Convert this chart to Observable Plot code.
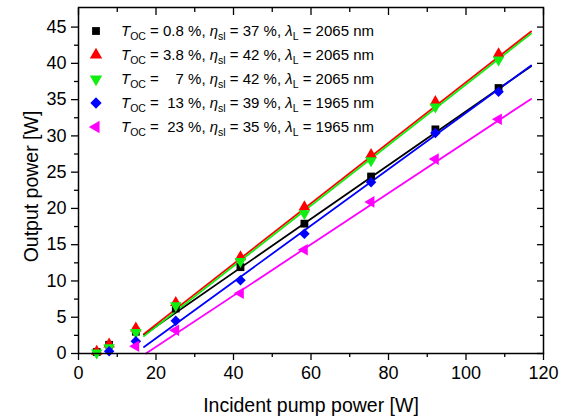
<!DOCTYPE html>
<html><head><meta charset="utf-8">
<script src="https://cdn.jsdelivr.net/npm/d3@7"></script>
<script src="https://cdn.jsdelivr.net/npm/@observablehq/plot@0.6"></script>
<style>body{margin:0;background:#fff}#chart{width:571px;height:419px}</style>
</head><body><div id="chart"></div>
<script>
// ---- data ----
const pump = [4.7, 7.9, 14.8, 25.1, 41.8, 58.3, 75.5, 92.1, 108.4];
const toc = ["0.8", "3.8", "7", "13", "23"];
const etaSl = ["37", "42", "42", "39", "35"];
const lambdaL = ["2065", "2065", "2065", "1965", "1965"];
const out08 = [0.2, 1.2, 3.0, 6.2, 11.9, 17.9, 24.4, 30.9, 36.6];
const out38 = [0.3, 1.3, 3.5, 7.0, 13.3, 20.2, 27.4, 34.7, 41.3];
const out7  = [0.1, 0.8, 2.9, 6.6, 12.7, 19.3, 26.6, 34.0, 40.5];
const out13 = [null, 0.3, 1.7, 4.5, 10.1, 16.5, 23.6, 30.4, 36.1];
const out23 = [null, null, 1.0, 3.2, 8.3, 14.3, 20.9, 26.8, 32.3];
// linear fit end points
const fitX0 = [16.9, 16.9, 16.9, 16.9, 17.4];
const fitX1 = [116.8, 116.8, 116.8, 116.8, 116.8];
const fitY0 = [2.6, 2.7, 2.4, 0.9, 0.0];
const fitY1 = [39.6, 44.4, 44.1, 39.7, 35.1];
const xTicks = [0, 20, 40, 60, 80, 100, 120];
const xMinor = [10, 30, 50, 70, 90, 110];
const yTicks = [0, 5, 10, 15, 20, 25, 30, 35, 40, 45];
const yMinor = [2.5, 7.5, 12.5, 17.5, 22.5, 27.5, 32.5, 37.5, 42.5];

// ---- styling ----
const outs = [out08, out38, out7, out13, out23];
const colors = ["#000000", "#ff0000", "#11ee11", "#0000ff", "#ff00ff"];
const symbols = ["square", "triangle", "triangle", "square", "triangle"];
const rotations = [0, 0, 180, 45, -90];
const radii = [4.4, 4.3, 4.3, 4.2, 4.3];
const FONT = "'Liberation Sans', Arial, sans-serif";

const marks = [];
outs.forEach((vals, i) => {
  const fit = [{x: fitX0[i], y: fitY0[i]}, {x: fitX1[i], y: fitY1[i]}];
  marks.push(Plot.line(fit, {x: "x", y: "y", stroke: colors[i], strokeWidth: 1.8}));
});
outs.forEach((vals, i) => {
  const pts = pump.map((p, j) => ({x: p, y: vals[j]})).filter(d => d.y != null);
  marks.push(Plot.dot(pts, {x: "x", y: "y", symbol: symbols[i], fill: colors[i], stroke: "none", r: radii[i], rotate: rotations[i]}));
});

const ax = {stroke: "#000", strokeWidth: 1.3};
const blank = () => "";
marks.push(
  Plot.axisX(xTicks, {anchor: "bottom", tickSize: 7, tickPadding: 6, fontSize: 18, ...ax, label: null}),
  Plot.axisX(xMinor, {anchor: "bottom", tickSize: 4, tickFormat: blank, ...ax, label: null}),
  Plot.axisX(xTicks, {anchor: "top", tickSize: 7, dy: 7, tickFormat: blank, ...ax, label: null}),
  Plot.axisX(xMinor, {anchor: "top", tickSize: 4, dy: 4, tickFormat: blank, ...ax, label: null}),
  Plot.axisY(yTicks, {anchor: "left", tickSize: 7, tickPadding: 5, fontSize: 18, ...ax, label: null}),
  Plot.axisY(yMinor, {anchor: "left", tickSize: 4, tickFormat: blank, ...ax, label: null}),
  Plot.axisY(yTicks, {anchor: "right", tickSize: 7, dx: -7, tickFormat: blank, ...ax, label: null}),
  Plot.axisY(yMinor, {anchor: "right", tickSize: 4, dx: -4, tickFormat: blank, ...ax, label: null}),
  Plot.frame({stroke: "#000", strokeWidth: 1.5}),
  Plot.text(["Incident pump power [W]"], {frameAnchor: "bottom", dy: 58, fontSize: 19.5, fill: "#000", textAnchor: "middle"}),
  Plot.text(["Output power [W]"], {frameAnchor: "left", dx: -47, dy: 6, rotate: -90, fontSize: 19.5, fill: "#000", textAnchor: "middle"})
);

const chart = Plot.plot({
  width: 571, height: 419,
  marginLeft: 78, marginRight: 28, marginTop: 7, marginBottom: 66,
  style: {fontFamily: FONT, color: "#000", background: "#fff", overflow: "visible"},
  x: {domain: [0, 120]},
  y: {domain: [0, 47.7]},
  marks
});
document.getElementById("chart").appendChild(chart);

// ---- legend ----
const svg = d3.select(chart);
const FS = 15, SUB = 10.5;
const lg = svg.append("g")
  .attr("font-family", FONT).attr("font-size", FS).attr("fill", "#000")
  .attr("text-anchor", "start").style("text-anchor", "start");
const symMap = {square: d3.symbolSquare, triangle: d3.symbolTriangle};
// measure number column width
const probe = lg.append("text").attr("x", 0).attr("y", -100);
const numW = Math.max(...toc.map(t => { probe.text(t); return probe.node().getComputedTextLength(); }));
probe.remove();
toc.forEach((t, i) => {
  const cy = 31 + i * 24;
  lg.append("path")
    .attr("d", d3.symbol(symMap[symbols[i]], Math.PI * radii[i] * radii[i] * (i === 0 ? 1 : 1.15))())
    .attr("transform", `translate(96,${cy}) rotate(${rotations[i]})`)
    .attr("fill", colors[i]);
  const base = cy + 5;
  const a = lg.append("text").attr("x", 121).attr("y", base).attr("text-anchor", "start");
  a.append("tspan").attr("font-style", "italic").text("T");
  a.append("tspan").attr("font-size", SUB).attr("dy", 4).text("OC");
  a.append("tspan").attr("dy", -4).text("\u00a0=\u00a0");
  const numEnd = 121 + a.node().getComputedTextLength() + numW;
  lg.append("text").attr("x", numEnd).attr("y", base).attr("text-anchor", "end").style("text-anchor", "end").text(t);
  const c = lg.append("text").attr("x", numEnd).attr("y", base).attr("text-anchor", "start");
  c.append("tspan").text("\u00a0%,\u00a0");
  c.append("tspan").attr("font-style", "italic").text("\u03b7");
  c.append("tspan").attr("font-size", SUB).attr("dy", 4).text("sl");
  c.append("tspan").attr("dy", -4).text(`\u00a0= ${etaSl[i]} %,\u00a0`);
  c.append("tspan").attr("font-style", "italic").text("\u03bb");
  c.append("tspan").attr("font-size", SUB).attr("dy", 4).text("L");
  c.append("tspan").attr("dy", -4).text(`\u00a0= ${lambdaL[i]} nm`);
});
</script>
</body></html>
